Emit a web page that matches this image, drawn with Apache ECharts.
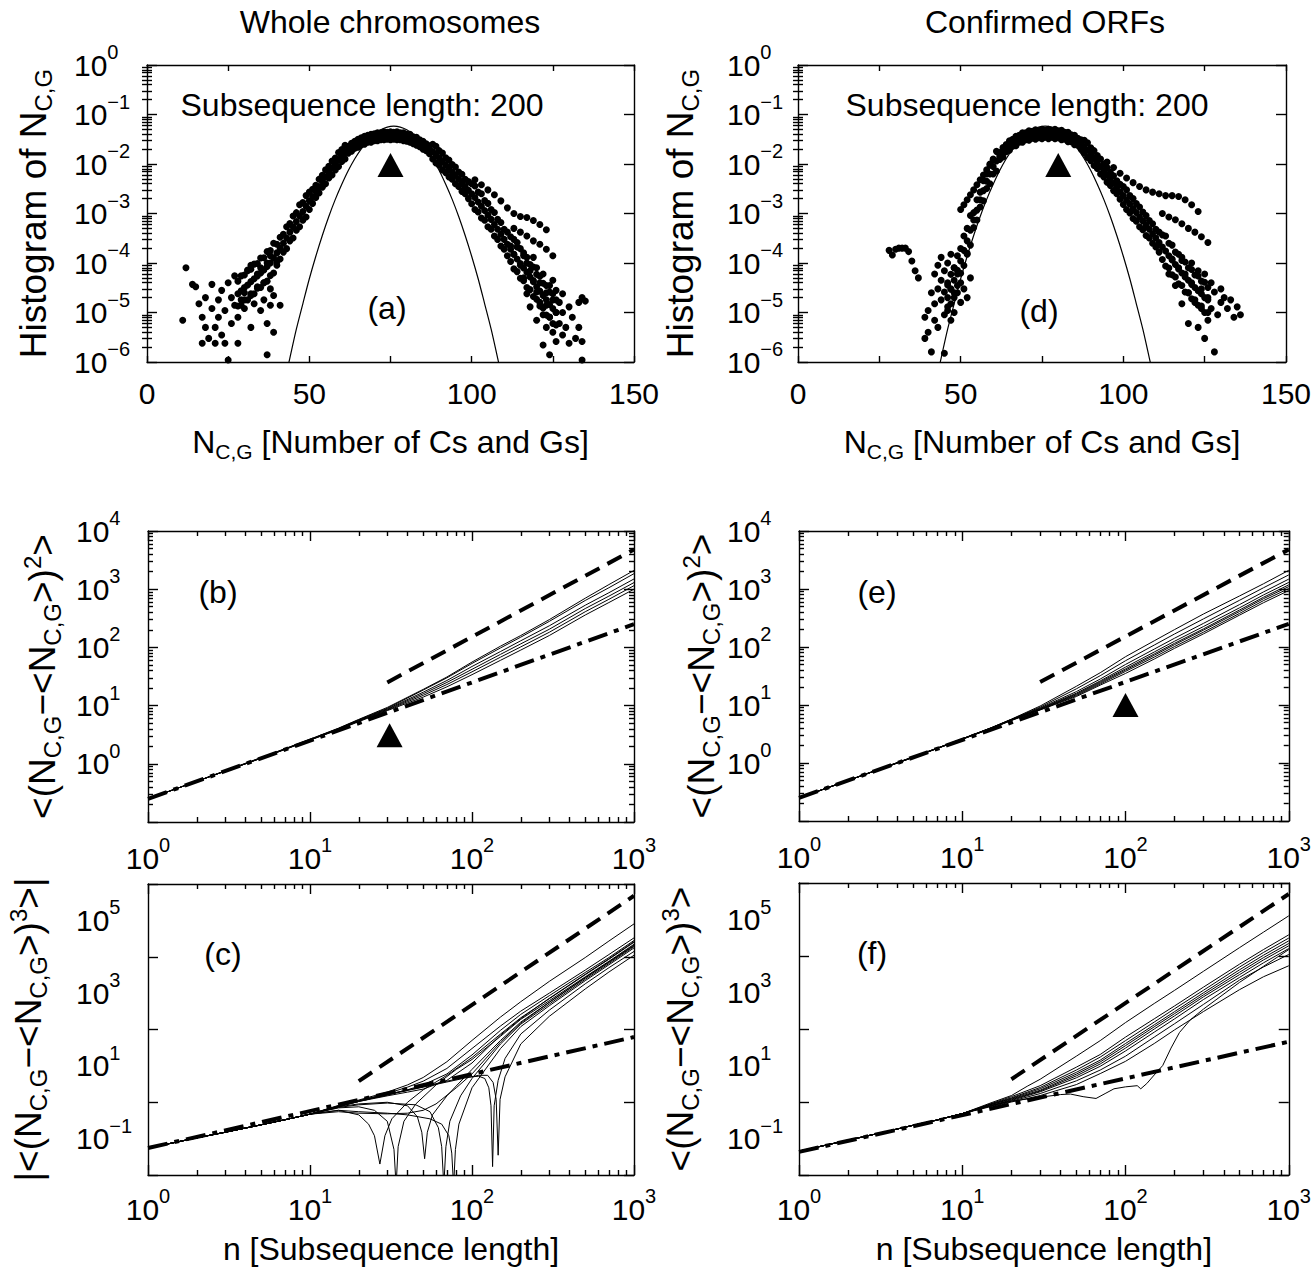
<!DOCTYPE html>
<html>
<head>
<meta charset="utf-8">
<script src="https://cdn.jsdelivr.net/npm/echarts@6/dist/echarts.min.js"></script>
<style>
  html, body { margin: 0; padding: 0; background: #fff; }
  #chart { width: 1314px; height: 1278px; }
</style>
</head>
<body>
<div id="chart"></div>
<script>
// ---------- tick values ----------
const histXLabels = [0, 50, 100, 150];
const histYTicks = [1e-6, 1e-5, 1e-4, 1e-3, 1e-2, 1e-1, 1];
const nTicks = [1, 10, 100, 1000];
const varYTicks = [0.1, 1, 10, 100, 1000, 10000];
const varYLabels = [1, 10, 100, 1000, 10000];
const skewYTicks = [1e-2, 1, 1e2, 1e4, 1e6];
const skewYLabels = [1e-1, 10, 1e3, 1e5];

// ---------- (a) / (d) histograms : [N, frequency] ----------
const gaussHist = [[42,3.1e-7],[44,1.2e-6],[46,4.6e-6],[48,1.5e-5],[50,4.8e-5],[52,1.37e-4],[54,3.6e-4],[56,8.7e-4],[58,1.93e-3],[60,3.9e-3],[62,7.4e-3],[64,0.0128],[66,0.0203],[68,0.0296],[70,0.0397],[72,0.049],[74,0.0556],[76,0.058],[78,0.0556],[80,0.049],[82,0.0397],[84,0.0296],[86,0.0203],[88,0.0128],[90,7.4e-3],[92,3.9e-3],[94,1.93e-3],[96,8.7e-4],[98,3.6e-4],[100,1.37e-4],[102,4.8e-5],[104,1.5e-5],[106,4.6e-6],[108,1.2e-6],[110,3.1e-7]];

const aMid = [[28,2.4e-5],[30,3.2e-5],[32,4.2e-5],[34,5.5e-5],[36,7.2e-5],[38,1e-4],[40,1.6e-4],[42,2.5e-4],[44,4.2e-4],[46,6.9e-4],[48,1.1e-3],[50,1.8e-3],[52,2.8e-3],[54,4.5e-3],[56,6.8e-3],[58,0.01],[60,0.0148],[62,0.0195],[64,0.0245],[66,0.0288],[68,0.0324],[70,0.0347],[72,0.0363],[74,0.0372],[76,0.0372],[78,0.0363],[80,0.0339],[82,0.0302],[84,0.0263],[86,0.0219],[88,0.0178],[90,0.0132],[92,9.5e-3],[94,6.9e-3],[96,4.9e-3],[98,3.5e-3],[100,2.5e-3],[102,1.7e-3],[104,1.15e-3],[106,7.6e-4],[108,4.8e-4],[110,3.0e-4],[112,1.9e-4],[114,1.2e-4],[116,7.9e-5],[118,5.2e-5],[120,3.3e-5],[122,2.2e-5],[124,1.45e-5],[126,1e-5]];
const aMidUp = [[28,4.3e-5],[30,5.7e-5],[32,7.5e-5],[34,9.8e-5],[36,1.28e-4],[38,1.78e-4],[40,2.4e-4],[42,3.8e-4],[44,6.3e-4],[46,1.04e-3],[48,1.66e-3],[50,2.7e-3],[52,3.7e-3],[54,5.9e-3],[56,9e-3],[58,0.0132],[60,0.0195],[62,0.0229],[64,0.0288],[66,0.0338],[68,0.038],[70,0.0408],[72,0.0427],[74,0.0437],[76,0.0437],[78,0.0427],[80,0.0398],[82,0.0355],[84,0.0309],[86,0.0257],[88,0.0251],[90,0.0186],[92,0.0134],[94,9.7e-3],[96,6.9e-3],[98,4.9e-3],[100,4e-3],[102,2.7e-3],[104,1.82e-3],[106,1.2e-3],[108,7.6e-4],[110,4.8e-4],[112,3.4e-4],[114,2.1e-4],[116,1.4e-4],[118,9.3e-5],[120,5.9e-5],[122,3.9e-5],[124,2.6e-5],[126,1.8e-5]];
const aMidLow = [[28,1.35e-5],[30,1.8e-5],[32,2.4e-5],[34,3.1e-5],[36,4.0e-5],[38,5.6e-5],[40,1.06e-4],[42,1.66e-4],[44,2.8e-4],[46,4.6e-4],[48,7.3e-4],[50,1.2e-3],[52,2.1e-3],[54,3.4e-3],[56,5.2e-3],[58,7.6e-3],[60,0.0112],[62,0.0166],[64,0.0209],[66,0.0245],[68,0.0276],[70,0.0295],[72,0.0309],[74,0.0317],[76,0.0317],[78,0.0309],[80,0.0289],[82,0.0257],[84,0.0224],[86,0.0186],[88,0.0126],[90,9.4e-3],[92,6.7e-3],[94,4.9e-3],[96,3.5e-3],[98,2.5e-3],[100,1.58e-3],[102,1.07e-3],[104,7.3e-4],[106,4.8e-4],[108,3.0e-4],[110,1.9e-4],[112,1.07e-4],[114,6.7e-5],[116,4.4e-5],[118,2.9e-5],[120,1.85e-5],[122,1.24e-5],[124,8.1e-6],[126,5.6e-6]];
const aMid2 = [[29,2.75e-5],[31,3.6e-5],[33,4.8e-5],[35,6.3e-5],[37,8.5e-5],[39,1.26e-4],[41,2e-4],[43,3.2e-4],[45,5.4e-4],[47,8.9e-4],[49,1.4e-3],[51,2.2e-3],[53,3.5e-3],[55,5.5e-3],[57,8.3e-3],[59,0.0123],[61,0.017],[63,0.0219],[65,0.0269],[67,0.0309],[69,0.0339],[71,0.0355],[73,0.0372],[75,0.0372],[77,0.0372],[79,0.0355],[81,0.0324],[83,0.0282],[85,0.024],[87,0.0195],[89,0.0155],[91,0.0112],[93,8.1e-3],[95,5.9e-3],[97,4.2e-3],[99,2.95e-3],[101,2.1e-3],[103,1.4e-3],[105,9.3e-4],[107,6e-4],[109,3.8e-4],[111,2.4e-4],[113,1.5e-4],[115,9.8e-5],[117,6.5e-5],[119,4.2e-5],[121,2.7e-5],[123,1.8e-5],[125,1.2e-5]];
const aUp = [[29,5.5e-5],[31,7.2e-5],[33,9.5e-5],[35,1.26e-4],[37,1.7e-4],[39,2.5e-4],[41,3.3e-4],[43,5.4e-4],[45,8.9e-4],[47,1.5e-3],[49,2.3e-3],[51,3.1e-3],[53,4.9e-3],[55,7.6e-3],[57,0.0115],[59,0.017],[61,0.024],[63,0.0263],[65,0.0316],[67,0.0363],[69,0.0398],[71,0.0427],[73,0.0447],[75,0.0447],[77,0.0447],[79,0.0427],[81,0.0398],[83,0.0347],[85,0.0288],[87,0.0234],[89,0.0229],[91,0.0166],[93,0.012],[95,8.7e-3],[97,6.2e-3],[99,4.4e-3],[101,3.6e-3],[103,2.5e-3],[105,1.6e-3],[107,1.05e-3],[109,6.6e-4],[111,4.2e-4],[113,3.0e-4],[115,1.95e-4],[117,1.3e-4],[119,8.3e-5],[121,5.4e-5],[123,3.5e-5],[125,2.4e-5]];
const aLow = [[29,1.4e-5],[31,1.8e-5],[33,2.4e-5],[35,3.2e-5],[37,4.3e-5],[39,6.3e-5],[41,1.2e-4],[43,1.95e-4],[45,3.2e-4],[47,5.4e-4],[49,8.5e-4],[51,1.6e-3],[53,2.6e-3],[55,4.0e-3],[57,6.0e-3],[59,8.9e-3],[61,0.0126],[63,0.0182],[65,0.0219],[67,0.0251],[69,0.0275],[71,0.0295],[73,0.0309],[75,0.0309],[77,0.0309],[79,0.0295],[81,0.0275],[83,0.024],[85,0.02],[87,0.0162],[89,0.0105],[91,7.6e-3],[93,5.5e-3],[95,4.0e-3],[97,2.8e-3],[99,2.0e-3],[101,1.2e-3],[103,8.1e-4],[105,5.4e-4],[107,3.5e-4],[109,2.2e-4],[111,1.4e-4],[113,7.6e-5],[115,4.9e-5],[117,3.2e-5],[119,2.1e-5],[121,1.35e-5],[123,8.9e-6],[125,6e-6]];
const aBranch = [[101,4.8e-3],[103,3.8e-3],[105,3.0e-3],[107,2.4e-3],[109,1.8e-3],[111,1.3e-3],[113,1.0e-3],[115,8.7e-4],[117,8.3e-4],[119,7.2e-4],[121,6.0e-4],[123,4.7e-4],[113,5e-4],[115,4.2e-4],[117,3.5e-4],[119,2.8e-4],[121,2.4e-4],[123,1.9e-4],[125,1.4e-4]];
const aTailLeft = [[11,7e-6],[12,8e-5],[14,3.7e-5],[15,3.3e-5],[16,1.5e-5],[17,2.4e-6],[17,8e-6],[18,5e-6],[18,2e-5],[19,3e-6],[20,1.2e-5],[20,3.7e-5],[21,5e-6],[21,2.4e-6],[22,1.8e-5],[22,8e-6],[23,2.8e-5],[23,3.5e-6],[24,1.1e-5],[24,2.4e-6],[25,1.1e-6],[25,4e-5],[26,2e-5],[26,6e-6],[27,1.4e-5],[27,5.5e-5],[28,8e-6],[28,2.4e-6],[29,1.8e-5],[30,2.5e-5],[30,1.2e-5],[31,7e-5],[32,2.2e-5],[32,5e-6],[32,9e-5],[33,1.5e-5],[34,3.3e-5],[34,6e-5],[35,1.1e-5],[35,8e-5],[36,4e-5],[36,1.8e-5],[37,1.4e-6],[37,6e-6],[37,1e-4],[38,3e-5],[38,1.4e-5],[38,1.4e-4],[39,4e-6],[39,2.2e-5],[40,9e-5],[41,1.4e-5]];
const aTailRight = [[112,2.2e-4],[113,1.5e-4],[114,2.6e-4],[115,9e-5],[116,1.6e-4],[116,5e-5],[117,1e-4],[117,2.4e-5],[118,7e-5],[118,1.3e-5],[119,4.4e-5],[119,1.3e-4],[120,2.6e-5],[120,7e-6],[120,8e-5],[121,1.6e-5],[121,4e-5],[122,9e-6],[122,6e-5],[122,2.2e-6],[123,2.5e-5],[123,5e-6],[123,1.4e-5],[124,3.5e-5],[124,8e-6],[124,1.4e-6],[125,1.8e-5],[125,4e-6],[125,4.5e-5],[126,1e-5],[126,2.6e-6],[126,2.8e-5],[127,6e-6],[127,1.6e-5],[128,3.5e-6],[128,1e-5],[128,2.4e-5],[129,5e-6],[130,1.3e-5],[130,2.4e-6],[131,8e-6],[132,3e-6],[133,1.6e-5],[133,5e-6],[134,2e-5],[134,1.1e-6],[135,1.7e-5],[134,2.6e-6]];

const dMid = [[46,2e-5],[48,4.5e-5],[50,1.1e-4],[52,2.8e-4],[54,7.4e-4],[56,1.9e-3],[58,4.5e-3],[60,8.9e-3],[62,0.0145],[64,0.0209],[66,0.0269],[68,0.0324],[70,0.0363],[72,0.0389],[74,0.0398],[76,0.0407],[78,0.0407],[80,0.0398],[82,0.0372],[84,0.0331],[86,0.0282],[88,0.0224],[90,0.0158],[92,0.011],[94,7.4e-3],[96,5e-3],[98,3.4e-3],[100,2.3e-3],[102,1.55e-3],[104,1.05e-3],[106,7.1e-4],[108,4.8e-4],[110,3.2e-4],[112,2.1e-4],[114,1.4e-4],[116,9.3e-5],[118,6.3e-5],[120,4.5e-5],[122,3.2e-5],[124,2.4e-5],[126,1.8e-5]];
const dMidUp = [[46,3.6e-5],[48,8e-5],[50,1.96e-4],[52,5e-4],[54,1.04e-3],[56,2.7e-3],[58,6.3e-3],[60,0.0126],[62,0.017],[64,0.0246],[66,0.0316],[68,0.038],[70,0.0427],[72,0.0457],[74,0.0468],[76,0.0478],[78,0.0478],[80,0.0468],[82,0.0437],[84,0.0389],[86,0.0331],[88,0.0302],[90,0.0213],[92,0.0149],[94,0.01],[96,6.8e-3],[98,4.6e-3],[100,3.5e-3],[102,2.3e-3],[104,1.59e-3],[106,1.07e-3],[108,7.2e-4],[110,4.8e-4],[112,3.7e-4],[114,2.5e-4],[116,1.66e-4],[118,1.12e-4],[120,8e-5],[122,5.7e-5],[124,4.3e-5],[126,3.2e-5]];
const dMidLow = [[46,1.1e-5],[48,2.5e-5],[50,6.2e-5],[52,1.57e-4],[54,5.2e-4],[56,1.35e-3],[58,3.2e-3],[60,6.3e-3],[62,0.0123],[64,0.0178],[66,0.0229],[68,0.0276],[70,0.0309],[72,0.0331],[74,0.0339],[76,0.0346],[78,0.0346],[80,0.0339],[82,0.0317],[84,0.0282],[86,0.024],[88,0.0166],[90,0.0117],[92,8.1e-3],[94,5.5e-3],[96,3.7e-3],[98,2.5e-3],[100,1.52e-3],[102,1.03e-3],[104,7e-4],[106,4.7e-4],[108,3.2e-4],[110,2.1e-4],[112,1.18e-4],[114,7.9e-5],[116,5.2e-5],[118,3.5e-5],[120,2.5e-5],[122,1.8e-5],[124,1.35e-5],[126,1e-5]];
const dMid2 = [[47,2.95e-5],[49,7.1e-5],[51,1.8e-4],[53,4.6e-4],[55,1.17e-3],[57,2.9e-3],[59,6.3e-3],[61,0.0115],[63,0.0174],[65,0.024],[67,0.0295],[69,0.0347],[71,0.038],[73,0.0398],[75,0.0407],[77,0.0407],[79,0.0407],[81,0.0389],[83,0.0355],[85,0.0309],[87,0.0251],[89,0.019],[91,0.0132],[93,8.9e-3],[95,6e-3],[97,4.1e-3],[99,2.75e-3],[101,1.86e-3],[103,1.26e-3],[105,8.5e-4],[107,5.75e-4],[109,3.9e-4],[111,2.6e-4],[113,1.74e-4],[115,1.15e-4],[117,7.6e-5],[119,5.2e-5],[121,3.7e-5],[123,2.75e-5],[125,2e-5]];
const dUp = [[47,5.9e-5],[49,1.4e-4],[51,3.5e-4],[53,9.1e-4],[55,1.9e-3],[57,4.6e-3],[59,0.01],[61,0.018],[63,0.0214],[65,0.0295],[67,0.0363],[69,0.0427],[71,0.0468],[73,0.049],[75,0.0501],[77,0.0501],[79,0.0501],[81,0.0479],[83,0.0437],[85,0.038],[87,0.0309],[89,0.0269],[91,0.0186],[93,0.0126],[95,8.5e-3],[97,5.8e-3],[99,3.9e-3],[101,3e-3],[103,2e-3],[105,1.35e-3],[107,9.1e-4],[109,6.2e-4],[111,4.2e-4],[113,3.5e-4],[115,2.3e-4],[117,1.5e-4],[119,1.05e-4],[121,7.4e-5],[123,5.5e-5],[125,4.1e-5]];
const dLow = [[47,1.5e-5],[49,3.5e-5],[51,8.9e-5],[53,2.3e-4],[55,7.4e-4],[57,1.8e-3],[59,4e-3],[61,7.2e-3],[63,0.0138],[65,0.019],[67,0.0234],[69,0.0275],[71,0.0302],[73,0.0316],[75,0.0324],[77,0.0324],[79,0.0324],[81,0.0309],[83,0.0282],[85,0.0245],[87,0.02],[89,0.0135],[91,9.3e-3],[93,6.3e-3],[95,4.3e-3],[97,2.9e-3],[99,1.95e-3],[101,1.2e-3],[103,7.9e-4],[105,5.4e-4],[107,3.6e-4],[109,2.5e-4],[111,1.66e-4],[113,8.7e-5],[115,5.8e-5],[117,3.8e-5],[119,2.6e-5],[121,1.9e-5],[123,1.4e-5],[125,1e-5]];
const dBranchLeft = [[50,1.2e-3],[51,1.5e-3],[52,1.9e-3],[53,2.4e-3],[54,3e-3],[55,3.8e-3],[56,4.8e-3],[57,6e-3],[58,7.6e-3],[59,9.5e-3],[60,0.012],[28,1.8e-4],[29,1.45e-4],[30,1.9e-4],[31,2e-4],[32,2e-4],[33,2e-4],[34,1.7e-4],[35,1.1e-4],[36,7e-5],[37,5e-5]];
const dBranchRight = [[95,0.011],[97,8.5e-3],[99,6.5e-3],[101,5.2e-3],[103,4.2e-3],[105,3.5e-3],[107,3e-3],[109,2.7e-3],[111,2.5e-3],[113,2.3e-3],[115,2.3e-3],[117,2.2e-3],[119,1.9e-3],[121,1.5e-3],[123,1.1e-3],[112,1e-3],[114,8.5e-4],[116,7.5e-4],[118,6.2e-4],[120,5e-4],[122,4.2e-4],[124,3.4e-4],[126,2.6e-4]];
const dTailLeft = [[39,8e-6],[39,3e-6],[40,4e-6],[40,1.1e-5],[41,2.5e-5],[41,1.6e-6],[42,6e-5],[42,1.5e-5],[42,7e-6],[43,9e-5],[43,3e-5],[43,5e-6],[44,1.3e-4],[44,4.5e-5],[44,1.8e-5],[45,7e-5],[45,2.6e-5],[45,9e-6],[45,1.5e-6],[46,1e-4],[46,4e-5],[46,1.3e-5],[47,1.5e-4],[47,3e-5],[47,7e-6],[48,8e-5],[48,2e-5],[48,1e-5],[49,6e-5],[49,2.5e-5],[50,4e-5],[50,1.6e-5],[51,3e-5],[52,2e-5],[53,5e-5],[52,1.5e-4]];
const dTailRight = [[114,6e-5],[115,1.2e-4],[116,3.5e-5],[117,8e-5],[118,1.5e-5],[118,1.3e-4],[119,6e-5],[120,2.5e-5],[120,6e-6],[121,1e-4],[121,4e-5],[122,1.6e-5],[123,7e-5],[123,5e-6],[124,3e-5],[124,1.2e-5],[125,6e-5],[125,3e-6],[126,2e-5],[126,7e-6],[127,4e-5],[127,1.2e-5],[128,1.6e-6],[128,2.6e-5],[129,9e-6],[130,3e-5],[130,1.6e-5],[131,2e-5],[132,1.2e-5],[133,1.8e-5],[134,8e-6],[135,1.3e-5],[136,9e-6]];

// triangles marking the subsequence length used
const markA = [[75, 0.0095]];
const markD = [[80, 0.0095]];
const markB = [[31, 3.1]];
const markE = [[100, 10]];

// ---------- (b) / (e) variance vs n ----------
const nVar = [1, 2, 3, 5, 7, 10, 15, 20, 30, 50, 70, 100, 150, 200, 300, 500, 700, 1000];
const bCurves = [
  [0.25,0.5,0.76,1.28,1.82,2.65,4.1,5.8,9.3,19,31,56,105,160,300,700,1200,2100],
  [0.25,0.5,0.76,1.28,1.8,2.62,4.05,5.7,9.0,18.5,30,53,98,150,280,640,1060,1850],
  [0.25,0.5,0.75,1.26,1.79,2.6,4.0,5.6,8.8,17,27,47,85,130,235,530,870,1500],
  [0.25,0.5,0.75,1.26,1.78,2.58,3.95,5.5,8.6,16,25,42,76,115,205,465,760,1300],
  [0.25,0.5,0.75,1.25,1.77,2.56,3.9,5.4,8.4,15,23,38,68,102,182,410,670,1150],
  [0.25,0.5,0.75,1.25,1.76,2.55,3.85,5.3,8.2,14,21,34,60,90,160,360,590,1000]
];
const eCurves = [
  [0.25,0.5,0.76,1.28,1.8,2.62,4.05,5.7,9.6,21,36,68,128,200,370,760,1230,2100],
  [0.25,0.5,0.76,1.27,1.8,2.61,4.03,5.65,9.2,19,32,58,108,168,305,640,1050,1750],
  [0.25,0.5,0.75,1.26,1.79,2.6,4.0,5.6,8.9,17,28,50,92,142,255,540,890,1480],
  [0.25,0.5,0.75,1.26,1.79,2.6,4.0,5.6,8.7,16,26,45,82,126,225,475,790,1300],
  [0.25,0.5,0.75,1.26,1.78,2.59,3.98,5.55,8.5,15.5,25,42,76,116,205,435,720,1180],
  [0.25,0.5,0.75,1.25,1.78,2.58,3.96,5.5,8.4,15,24,40,72,110,195,410,680,1100],
  [0.25,0.5,0.75,1.25,1.77,2.57,3.94,5.45,8.3,14.5,23,38,67,102,180,380,630,1020],
  [0.25,0.5,0.75,1.25,1.77,2.56,3.92,5.4,8.2,14,22,35,62,95,168,355,580,940]
];
const varDash = [[30, 25], [1000, 4800]];
const varDashDot = [[1, 0.25], [1000, 250]];

// ---------- (c) / (f) third moment vs n ----------
const cHead = [[1,0.055],[2,0.105],[3,0.15],[5,0.24],[7,0.33],[10,0.47]];
const cCurves = [
  [[15,0.78],[20,1.15],[30,1.9],[40,3.0],[50,4.8],[70,13],[100,50],[150,220],[200,580],[300,2100],[500,9500],[700,2.7e4],[1000,8e4]],
  [[15,0.76],[20,1.1],[30,1.75],[40,2.6],[50,3.8],[70,8.5],[100,30],[150,125],[200,320],[300,1000],[500,4300],[700,1.15e4],[1000,3.3e4]],
  [[15,0.74],[20,1.05],[30,1.6],[40,2.2],[50,3.0],[70,6],[100,20],[150,95],[200,260],[300,850],[500,3700],[700,9500],[1000,2.8e4]],
  [[15,0.6],[20,0.45],[23,0.25],[25,0.12],[27,0.02],[29,0.12],[32,0.35],[40,1.0],[50,2.2],[70,5.5],[100,17],[150,75],[200,210],[300,700],[500,3200],[700,8500],[1000,2.5e4]],
  [[15,0.7],[20,0.75],[25,0.6],[30,0.3],[33,0.05],[34,0.005],[35,0.06],[38,0.3],[45,0.9],[60,3],[80,8],[100,15],[150,65],[200,190],[300,620],[500,2800],[700,7500],[1000,2.2e4]],
  [[15,0.75],[20,0.9],[30,1.0],[40,0.8],[46,0.4],[49,0.15],[51,0.028],[53,0.15],[57,0.45],[70,1.5],[100,8],[150,50],[200,160],[300,560],[500,2600],[700,7000],[1000,2e4]],
  [[15,0.72],[20,0.85],[30,0.95],[45,0.85],[55,0.55],[62,0.2],[65,0.06],[67,0.005],[69,0.06],[73,0.3],[85,1.5],[100,4.5],[150,40],[200,140],[300,500],[500,2400],[700,6500],[1000,1.9e4]],
  [[15,0.6],[20,0.55],[30,0.5],[40,0.45],[55,0.35],[65,0.25],[72,0.12],[75,0.04],[77,0.005],[79,0.05],[83,0.25],[100,2.5],[150,30],[200,120],[300,450],[500,2200],[700,6000],[1000,1.75e4]],
  [[15,0.82],[20,1.1],[30,1.65],[50,2.7],[70,3.8],[90,4.8],[110,5.2],[120,4.5],[127,2.5],[131,0.8],[134,0.017],[137,0.8],[145,4],[160,16],[200,75],[300,340],[500,1800],[700,5000],[1000,1.4e4]],
  [[15,0.8],[20,1.08],[30,1.6],[50,2.6],[70,3.6],[90,4.6],[110,5.5],[125,5.5],[135,3.5],[141,1.2],[145,0.035],[149,1.2],[160,5],[200,40],[300,230],[500,1300],[700,3800],[1000,1.1e4]],
  [[15,0.78],[20,1.05],[30,1.5],[40,1.9],[50,2.3],[70,4],[100,12],[150,70],[200,200],[300,720],[500,3300],[700,8800],[1000,2.6e4]],
  [[15,0.55],[20,0.5],[30,0.48],[40,0.5],[50,0.6],[60,0.9],[80,2.5],[100,6],[150,45],[200,150],[300,560],[500,2700],[700,7200],[1000,2.1e4]]
];
const skewDashC = [[20, 3.8], [1000, 4.75e5]];
const skewDashDotC = [[1, 0.055], [1000, 62]];

const fHead = [[1,0.045],[2,0.09],[3,0.135],[5,0.23],[7,0.32],[10,0.48]];
const fCurves = [
  [[15,0.95],[20,1.5],[25,2.7],[30,4.2],[50,18],[70,48],[100,150],[150,500],[200,1150],[300,3800],[500,1.7e4],[700,4.5e4],[1000,1.26e5]],
  [[15,0.9],[20,1.4],[30,2.8],[50,9],[70,20],[100,60],[150,190],[200,430],[300,1400],[500,6000],[700,1.5e4],[1000,3.8e4]],
  [[15,0.88],[20,1.3],[30,2.5],[50,7.5],[70,17],[100,48],[150,155],[200,360],[300,1150],[500,5000],[700,1.25e4],[1000,3.1e4]],
  [[15,0.85],[20,1.25],[30,2.3],[50,6.5],[70,14],[100,40],[150,130],[200,300],[300,980],[500,4200],[700,1.05e4],[1000,2.6e4]],
  [[15,0.85],[20,1.2],[30,2.1],[50,5.8],[70,12.5],[100,35],[150,115],[200,265],[300,860],[500,3600],[700,9000],[1000,2.2e4]],
  [[15,0.8],[20,1.15],[30,2.0],[50,5.2],[70,11],[100,30],[150,100],[200,230],[300,760],[500,3100],[700,7800],[1000,1.9e4]],
  [[15,0.8],[20,1.1],[30,1.9],[50,4.6],[70,9.5],[100,25],[150,82],[200,190],[300,640],[500,2600],[700,6500],[1000,1.6e4]],
  [[15,0.78],[20,1.05],[30,1.7],[50,3.8],[70,7.5],[100,18],[150,60],[200,140],[300,470],[500,2200],[700,5000],[1000,1.1e4]],
  [[15,0.75],[20,1.0],[30,1.5],[50,3],[70,6],[100,13],[150,40],[200,95],[300,300],[500,1200],[700,2700],[1000,5400]],
  [[15,0.8],[20,1.05],[30,1.35],[40,1.6],[46,1.65],[55,1.4],[66,1.25],[75,1.7],[85,2.3],[100,2.6],[118,2.8],[124,2.3],[135,3.2],[150,5.5],[169,10],[190,30],[214,80],[250,180],[300,350],[500,1900],[700,5200],[1000,1.5e4]]
];
const skewDashF = [[20, 4.2], [1000, 5e5]];
const skewDashDotF = [[1, 0.043], [1000, 45]];

// ---------- styling ----------
const FONT = '"Liberation Sans", Arial, Helvetica, sans-serif';
const BLACK = '#000';
const BOX = { color: BLACK, width: 1.4 };
const TICK_RICH = {
  b: { fontSize: 30, fontFamily: FONT, color: BLACK },
  s: { fontSize: 20, fontFamily: FONT, color: BLACK, verticalAlign: 'top', padding: [0, 0, 26, 0] }
};
const NAME_RICH = {
  sub: { fontSize: 24, fontFamily: FONT, color: BLACK, verticalAlign: 'bottom', padding: [20, 0, 0, 0] },
  sup: { fontSize: 24, fontFamily: FONT, color: BLACK, verticalAlign: 'top', padding: [0, 0, 20, 0] }
};
const X_NAME_RICH = {
  sub: { fontSize: 21, fontFamily: FONT, color: BLACK, verticalAlign: 'bottom', padding: [20, 0, 0, 0] }
};
const histXName = 'N{sub|C,G} [Number of Cs and Gs]';
const histYName = 'Histogram of N{sub|C,G}';
const varYName = '<(N{sub|C,G}\u2212<N{sub|C,G}>){sup|2}>';
const skewYNameC = '|<(N{sub|C,G}\u2212<N{sub|C,G}>){sup|3}>|';
const skewYNameF = '<(N{sub|C,G}\u2212<N{sub|C,G}>){sup|3}>';
const nName = 'n [Subsequence length]';

function pow10Label(v) {
  const e = Math.round(Math.log10(v));
  return '{b|10}{s|' + (e < 0 ? '\u2212' + (-e) : e) + '}';
}
function minorLog(lo, hi) {
  const out = [];
  for (let e = lo; e < hi; e++) for (let k = 2; k <= 9; k++) out.push(+(k * Math.pow(10, e)).toPrecision(3));
  return out;
}

// ---------- axes ----------
const xAxes = [], yAxes = [];
function addAxis(list, dim, o) {
  const sides = dim === 'x' ? ['bottom', 'top'] : ['left', 'right'];
  const base = { gridIndex: o.grid, type: o.type, min: o.min, max: o.max, splitLine: { show: false } };
  if (o.type === 'log') base.logBase = 10;
  if (o.interval) base.interval = o.interval;
  const main = list.length;
  sides.forEach((side, k) => {
    const tick = { show: true, inside: true, length: o.tickLen || 10, lineStyle: BOX };
    if (o.ticks) tick.customValues = o.ticks;
    const ax = Object.assign({}, base, {
      position: side,
      axisLine: { show: true, onZero: false, lineStyle: BOX },
      axisTick: tick,
      axisLabel: { show: false }
    });
    if (k === 0) {
      const lab = { show: true, customValues: o.labels, margin: o.margin, rich: TICK_RICH,
        fontSize: 30, fontFamily: FONT, color: BLACK };
      if (o.fmt) lab.formatter = o.fmt;
      if (o.align) lab.align = o.align;
      ax.axisLabel = lab;
      if (o.name) {
        const vertical = dim === 'y';
        ax.name = o.name;
        ax.nameLocation = 'middle';
        ax.nameGap = o.nameGap;
        ax.nameTextStyle = { fontSize: vertical ? 37 : 32, fontFamily: FONT, color: BLACK,
          rich: vertical ? NAME_RICH : X_NAME_RICH };
      }
    }
    list.push(ax);
  });
  if (o.minor) {
    sides.forEach(side => list.push(Object.assign({}, base, {
      position: side,
      axisLine: { show: false },
      axisTick: { show: true, inside: true, length: 5, lineStyle: BOX, customValues: o.minor },
      axisLabel: { show: false }
    })));
  }
  return main;
}

const grids = [
  { left: 147, top: 65, width: 487, height: 297 },   // (a)
  { left: 798, top: 65, width: 494, height: 297 },   // (d)
  { left: 148, top: 531, width: 486, height: 291 },  // (b)
  { left: 799, top: 531, width: 493, height: 290 },  // (e)
  { left: 148, top: 884, width: 486, height: 291 },  // (c)
  { left: 799, top: 883, width: 493, height: 292 }   // (f)
];

const ax = {};
// histograms
[[0, 'a', 73, 92], [1, 'd', 71, 96]].forEach(([g, k, m, gap]) => {
  ax[k] = {
    x: addAxis(xAxes, 'x', { grid: g, type: 'value', min: 0, max: 150, interval: 25, labels: histXLabels,
      tickLen: 6, margin: 16, name: histXName, nameGap: 59 }),
    y: addAxis(yAxes, 'y', { grid: g, type: 'log', min: 1e-6, max: 1, ticks: histYTicks, labels: histYTicks,
      minor: minorLog(-6, 0), fmt: pow10Label, margin: m, align: 'left', name: histYName, nameGap: gap })
  };
});
// variance
[[2, 'b', 72, 84], [3, 'e', 72, 76]].forEach(([g, k, m, gap]) => {
  ax[k] = {
    x: addAxis(xAxes, 'x', { grid: g, type: 'log', min: 1, max: 1000, ticks: nTicks, labels: nTicks,
      minor: minorLog(0, 3), fmt: pow10Label, margin: 13 }),
    y: addAxis(yAxes, 'y', { grid: g, type: 'log', min: 0.1, max: 1e4, ticks: varYTicks, labels: varYLabels,
      minor: minorLog(-1, 4), fmt: pow10Label, margin: m, align: 'left', name: varYName, nameGap: gap })
  };
});
// third moment
[[4, 'c', 72, 98, skewYNameC], [5, 'f', 72, 97, skewYNameF]].forEach(([g, k, m, gap, nm]) => {
  ax[k] = {
    x: addAxis(xAxes, 'x', { grid: g, type: 'log', min: 1, max: 1000, ticks: nTicks, labels: nTicks,
      minor: minorLog(0, 3), fmt: pow10Label, margin: 11, name: nName, nameGap: 58 }),
    y: addAxis(yAxes, 'y', { grid: g, type: 'log', min: 1e-2, max: 1e6, ticks: skewYTicks, labels: skewYLabels,
      fmt: pow10Label, margin: m, align: 'left', name: nm, nameGap: gap })
  };
});

// ---------- series ----------
const series = [];
function thin(k, data) {
  series.push({ type: 'line', xAxisIndex: ax[k].x, yAxisIndex: ax[k].y, data: data, symbol: 'none',
    lineStyle: { color: BLACK, width: 1 }, silent: true, z: 3 });
}
function thick(k, data, dash) {
  series.push({ type: 'line', xAxisIndex: ax[k].x, yAxisIndex: ax[k].y, data: data, symbol: 'none',
    lineStyle: { color: BLACK, width: 4, type: dash, cap: 'butt' }, silent: true, z: 4 });
}
function dots(k, data) {
  series.push({ type: 'scatter', xAxisIndex: ax[k].x, yAxisIndex: ax[k].y, data: data, symbol: 'circle',
    symbolSize: 7, itemStyle: { color: BLACK, opacity: 1 }, silent: true, z: 2 });
}
function marker(k, data) {
  series.push({ type: 'scatter', xAxisIndex: ax[k].x, yAxisIndex: ax[k].y, data: data, symbol: 'triangle',
    symbolSize: [26, 24], itemStyle: { color: BLACK, opacity: 1 }, silent: true, z: 5 });
}
const DASH = [16, 9];
const DASHDOT = [20, 7, 5, 7];

// (a)
dots('a', [].concat(aMid, aMidUp, aMidLow, aMid2, aUp, aLow, aBranch, aTailLeft, aTailRight));
series.push({ type: 'line', xAxisIndex: ax.a.x, yAxisIndex: ax.a.y, data: gaussHist, symbol: 'none', smooth: 0.3,
  lineStyle: { color: BLACK, width: 1.2 }, silent: true, z: 3 });
marker('a', markA);
// (d)
dots('d', [].concat(dMid, dMidUp, dMidLow, dMid2, dUp, dLow, dBranchLeft, dBranchRight, dTailLeft, dTailRight));
series.push({ type: 'line', xAxisIndex: ax.d.x, yAxisIndex: ax.d.y, data: gaussHist, symbol: 'none', smooth: 0.3,
  lineStyle: { color: BLACK, width: 1.2 }, silent: true, z: 3 });
marker('d', markD);
// (b) / (e)
bCurves.forEach(c => thin('b', nVar.map((n, i) => [n, c[i]])));
thick('b', varDash, DASH);
thick('b', varDashDot, DASHDOT);
marker('b', markB);
eCurves.forEach(c => thin('e', nVar.map((n, i) => [n, c[i]])));
thick('e', varDash, DASH);
thick('e', varDashDot, DASHDOT);
marker('e', markE);
// (c) / (f)
cCurves.forEach(c => thin('c', cHead.concat(c)));
thick('c', skewDashC, DASH);
thick('c', skewDashDotC, DASHDOT);
fCurves.forEach(c => thin('f', fHead.concat(c)));
thick('f', skewDashF, DASH);
thick('f', skewDashDotF, DASHDOT);

// ---------- free text ----------
function txt(text, x, y) {
  return { type: 'text', x: x, y: y, silent: true,
    style: { text: text, fontSize: 32, fontFamily: FONT, fill: BLACK, align: 'center', verticalAlign: 'middle' } };
}

const chart = echarts.init(document.getElementById('chart'), null, { renderer: 'svg' });
chart.setOption({
  animation: false,
  backgroundColor: '#fff',
  grid: grids,
  xAxis: xAxes,
  yAxis: yAxes,
  series: series,
  graphic: [
    txt('Whole chromosomes', 390, 22),
    txt('Confirmed ORFs', 1045, 22),
    txt('Subsequence length: 200', 362, 105),
    txt('Subsequence length: 200', 1027, 105),
    txt('(a)', 387, 308),
    txt('(d)', 1039, 311),
    txt('(b)', 218, 592),
    txt('(e)', 877, 592),
    txt('(c)', 223, 954),
    txt('(f)', 872, 953)
  ]
});
</script>
</body>
</html>
